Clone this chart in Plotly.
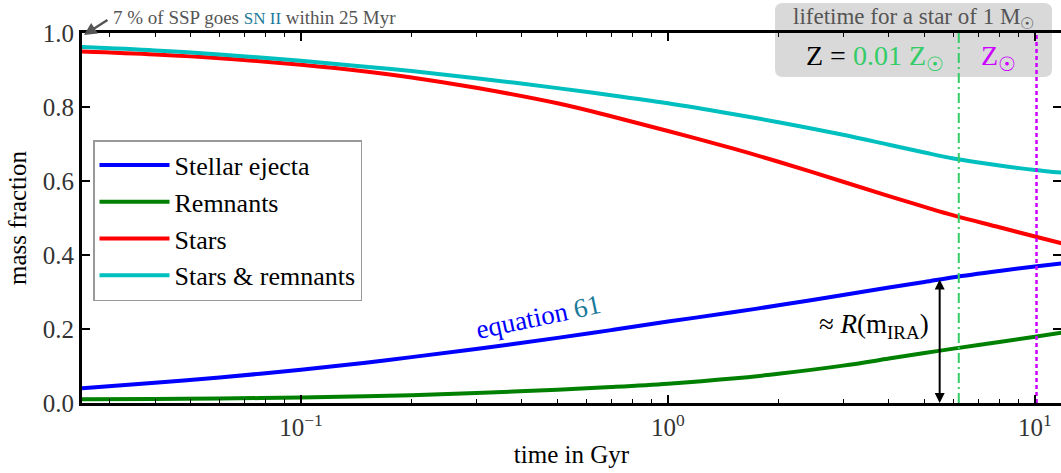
import numpy as np
import plotly.graph_objects as go

# ---- data ----
time_gyr = [0.0253, 0.04, 0.06, 0.1, 0.15, 0.2, 0.3, 0.5, 0.7, 1.0, 1.5, 2.0, 3.0, 4.0, 5.0, 6.0, 8.0, 10.0, 12.0]
stellar_ejecta = [0.040, 0.055, 0.069, 0.090, 0.109, 0.124, 0.146, 0.176, 0.197, 0.220, 0.245, 0.264, 0.292, 0.312, 0.327, 0.340, 0.357, 0.369, 0.378]
remnants = [0.010, 0.011, 0.012, 0.015, 0.018, 0.021, 0.027, 0.036, 0.043, 0.052, 0.066, 0.079, 0.101, 0.120, 0.135, 0.147, 0.165, 0.179, 0.191]
stars = [0.950, 0.942, 0.932, 0.914, 0.896, 0.880, 0.852, 0.810, 0.775, 0.735, 0.688, 0.652, 0.598, 0.559, 0.530, 0.507, 0.475, 0.450, 0.430]
stars_remnants = [0.962, 0.953, 0.942, 0.925, 0.909, 0.897, 0.878, 0.851, 0.832, 0.810, 0.781, 0.759, 0.725, 0.698, 0.677, 0.661, 0.642, 0.630, 0.622]

series_names = ["Stellar ejecta", "Remnants", "Stars", "Stars & remnants"]
series_colors = ["#0000ff", "#008000", "#ff0000", "#00bfbf"]

lifetime_low_z = 6.2    # Gyr, Z = 0.01 Zsun
lifetime_sun_z = 10.1   # Gyr, Z = Zsun
ira_time = 5.5          # Gyr
ira_value = 0.338

x_tickvals = [0.1, 1, 10]
x_ticktext = ["10<sup>\u22121</sup>", "10<sup>0</sup>", "10<sup>1</sup>"]
y_tickvals = [0.0, 0.2, 0.4, 0.6, 0.8, 1.0]
y_ticktext = ["0.0", "0.2", "0.4", "0.6", "0.8", "1.0"]

FONT = "Liberation Serif"
W, H = 1061, 473
ML, MR, MT, MB = 82, 0, 33, 70
PW, PH = W - ML - MR, H - MT - MB

def px2paper(px, py):
    return (px - ML) / PW, (H - MB - py) / PH

fig = go.Figure()
for name, ys, col in zip(series_names, [stellar_ejecta, remnants, stars, stars_remnants], series_colors):
    fig.add_trace(go.Scatter(x=time_gyr, y=ys, mode="lines", name=name, legendgroup=name,
                             line=dict(color=col, width=4, shape="spline", smoothing=1.0)))

# lifetime markers
fig.add_trace(go.Scatter(x=[lifetime_low_z, lifetime_low_z], y=[0, 1], mode="lines", showlegend=False,
                         line=dict(color="#33cc66", width=2, dash="10px,4px,2px,4px")))
fig.add_trace(go.Scatter(x=[lifetime_sun_z, lifetime_sun_z], y=[0, 1], mode="lines", showlegend=False,
                         line=dict(color="#cc00ff", width=2.5, dash="4px,3px")))

# rounded grey box
x0, y1 = px2paper(775, 3)
x1, y0 = px2paper(1052, 77)
rx, ry = 8 / PW, 8 / PH
path = (f"M {x0+rx},{y0} L {x1-rx},{y0} Q {x1},{y0} {x1},{y0+ry} L {x1},{y1-ry} Q {x1},{y1} {x1-rx},{y1} "
        f"L {x0+rx},{y1} Q {x0},{y1} {x0},{y1-ry} L {x0},{y0+ry} Q {x0},{y0} {x0+rx},{y0} Z")
fig.add_shape(type="path", path=path, xref="paper", yref="paper", fillcolor="#d9d9d9",
              line=dict(width=0), layer="below")

def note(px, py, text, size, color, xanchor="center", angle=0):
    x, y = px2paper(px, py)
    return dict(xref="paper", yref="paper", x=x, y=y, xanchor=xanchor, yanchor="middle",
                showarrow=False, text=text, textangle=angle,
                font=dict(family=FONT, size=size, color=color))

annots = []
annots.append(note(111, 17, "7 % of SSP goes <span style='color:#1a7a9a;font-size:17px'>SN II</span> within 25 Myr",
                   19, "#555555", xanchor="left"))
tx, ty = px2paper(84, 35)
annots.append(dict(xref="paper", yref="paper", x=tx, y=ty, ax=25, ay=-16, text="", showarrow=True,
                   arrowhead=2, arrowsize=1, arrowwidth=2.5, arrowcolor="#555555"))
annots.append(note(913, 18, "lifetime for a star of 1 M<sub>\u2609</sub>", 23, "#555555"))
annots.append(note(804, 58, "Z = <span style='color:#33cc66'>0.01 Z<sub>\u2609</sub></span>", 28, "#000000", xanchor="left"))
annots.append(note(998, 58, "Z<sub>\u2609</sub>", 28, "#cc00ff"))
annots.append(note(538, 317, "equation <span style='color:#1a7a9a'>61</span>", 27, "#0000ff", angle=-12))
annots.append(note(874, 326, "\u2248 <i>R</i>(m<sub>IRA</sub>)", 27, "#000000"))
# double-headed arrow
annots.append(dict(xref="x", yref="y", x=np.log10(ira_time), y=0, axref="x", ayref="y",
                   ax=np.log10(ira_time), ay=ira_value, text="", showarrow=True,
                   arrowside="end+start", arrowhead=2, arrowsize=1, arrowwidth=2, arrowcolor="#000000"))

minor_vals = [m * 10.0 ** e for e in (-2, -1, 0, 1) for m in range(2, 10)]

fig.update_layout(
    width=W, height=H, margin=dict(l=ML, r=MR, t=MT, b=MB, autoexpand=False),
    paper_bgcolor="white", plot_bgcolor="rgba(0,0,0,0)",
    font=dict(family=FONT, color="#000000"),
    annotations=annots,
    legend=dict(x=px2paper(93, 0)[0], y=px2paper(0, 140)[1], xanchor="left", yanchor="top",
                bgcolor="white", bordercolor="#999999", borderwidth=1.5,
                font=dict(family=FONT, size=26, color="#000000"),
                tracegroupgap=0, itemwidth=70),
    xaxis=dict(type="log", range=[np.log10(0.0253), 1.071],
               showline=True, linewidth=3, linecolor="black", mirror="allticks",
               ticks="inside", ticklen=8, tickwidth=1.5, tickcolor="black",
               tickvals=x_tickvals, ticktext=x_ticktext,
               tickfont=dict(family=FONT, size=25, color="#333333"),
               minor=dict(tickvals=minor_vals, ticks="inside", ticklen=4, tickwidth=1, tickcolor="black", showgrid=False),
               showgrid=False, zeroline=False,
               title=dict(text="time in Gyr", font=dict(family=FONT, size=25, color="#000000"), standoff=6)),
    yaxis=dict(range=[0, 1], showline=True, linewidth=3, linecolor="black", mirror="allticks",
               ticks="inside", ticklen=8, tickwidth=1.5, tickcolor="black",
               tickvals=y_tickvals, ticktext=y_ticktext,
               tickfont=dict(family=FONT, size=25, color="#333333"),
               showgrid=False, zeroline=False,
               title=dict(text="mass fraction", font=dict(family=FONT, size=25, color="#000000"), standoff=10)),
)

fig.write_html("out.html", config={"displayModeBar": False},
               post_script="document.body.style.margin='0px';")
